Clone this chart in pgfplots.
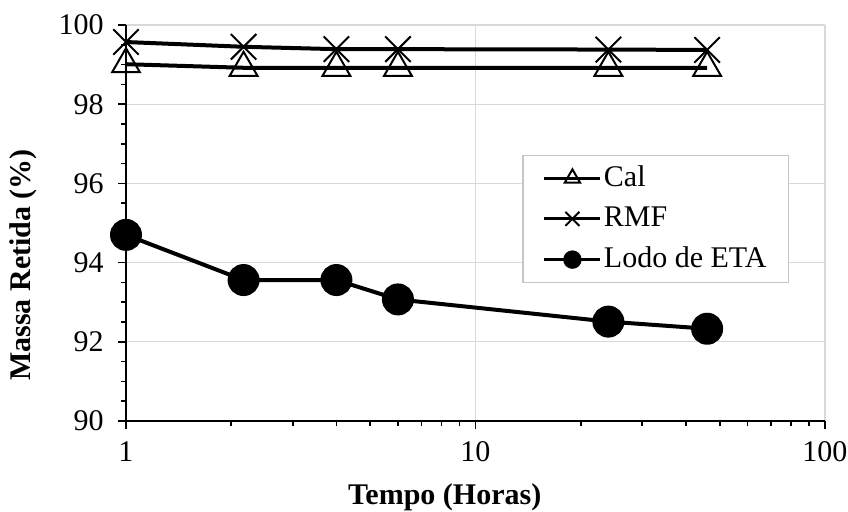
\documentclass[border=0pt]{standalone}
\usepackage{fontspec}
\setmainfont{Liberation Serif}
\usepackage{pgfplots}
\pgfplotsset{compat=1.18}
\begin{document}
\fontsize{15}{17}\selectfont
\begin{tikzpicture}
\begin{semilogxaxis}[
    scale only axis,
    width=349.5pt, height=198pt,
    xmin=1, xmax=100, ymin=90, ymax=100,
    xtick={1,10,100}, xticklabels={1,10,100},
    ytick={90,92,...,100}, minor y tick num=3,
    /pgf/number format/assume math mode=true,
    axis x line*=bottom, axis y line*=left,
    xtick pos=bottom, ytick pos=left,
    axis line style={line width=1pt, -},
    tick align=outside,
    major tick length=4pt, minor tick length=2.5pt,
    tick style={black, line width=0.8pt},
    grid=major, grid style={gray!30, line width=0.6pt},
    font=\fontsize{15}{17}\selectfont,
    xticklabel style={yshift=-1pt},
    yticklabel style={xshift=-2pt},
    xlabel={\textbf{Tempo (Horas)}},
    ylabel={\textbf{Massa Retida (\%)}},
    every axis x label/.style={at={(axis description cs:0.456,0)}, yshift=-38pt, anchor=center},
    every axis y label/.style={at={(axis description cs:0,0.394)}, xshift=-51.5pt, rotate=90, anchor=center},
    legend style={at={(0.567,0.672)}, anchor=north west, draw=gray!45, line width=0.6pt,
        font=\fontsize{15}{17}\selectfont, inner xsep=10pt, inner ysep=3pt,
        row sep=4pt, nodes={inner xsep=1pt}},
    legend cell align=left,
    legend image code/.code={\draw[mark repeat=2,mark phase=2] plot coordinates {(0pt,0pt) (14pt,0pt) (28pt,0pt)};},
    legend image post style={line width=1.5pt, every mark/.append style={scale=0.55}},
]
\addplot[black, line width=2pt, mark=triangle, mark size=8pt, mark options={line width=1pt, fill=white, solid}]
    coordinates {(1,99.01) (2.17,98.92) (4,98.92) (6,98.92) (24,98.92) (46,98.92)};
\addplot[black, line width=2pt, mark=x, mark size=9pt, mark options={line width=1pt, solid}]
    coordinates {(1,99.57) (2.17,99.45) (4,99.39) (6,99.39) (24,99.38) (46,99.37)};
\addplot[black, line width=2pt, mark=*, mark size=7pt, mark options={fill=black, solid}]
    coordinates {(1,94.70) (2.17,93.56) (4,93.56) (6,93.07) (24,92.51) (46,92.33)};
\legend{Cal, RMF, Lodo de ETA}
\coordinate (sw) at (rel axis cs:0,0);
\coordinate (ne) at (rel axis cs:1,1);
\end{semilogxaxis}
\pgfresetboundingbox
\path ([shift={(-63pt,-45pt)}]sw) rectangle ([shift={(11.5pt,12.5pt)}]ne);
\end{tikzpicture}
\end{document}
